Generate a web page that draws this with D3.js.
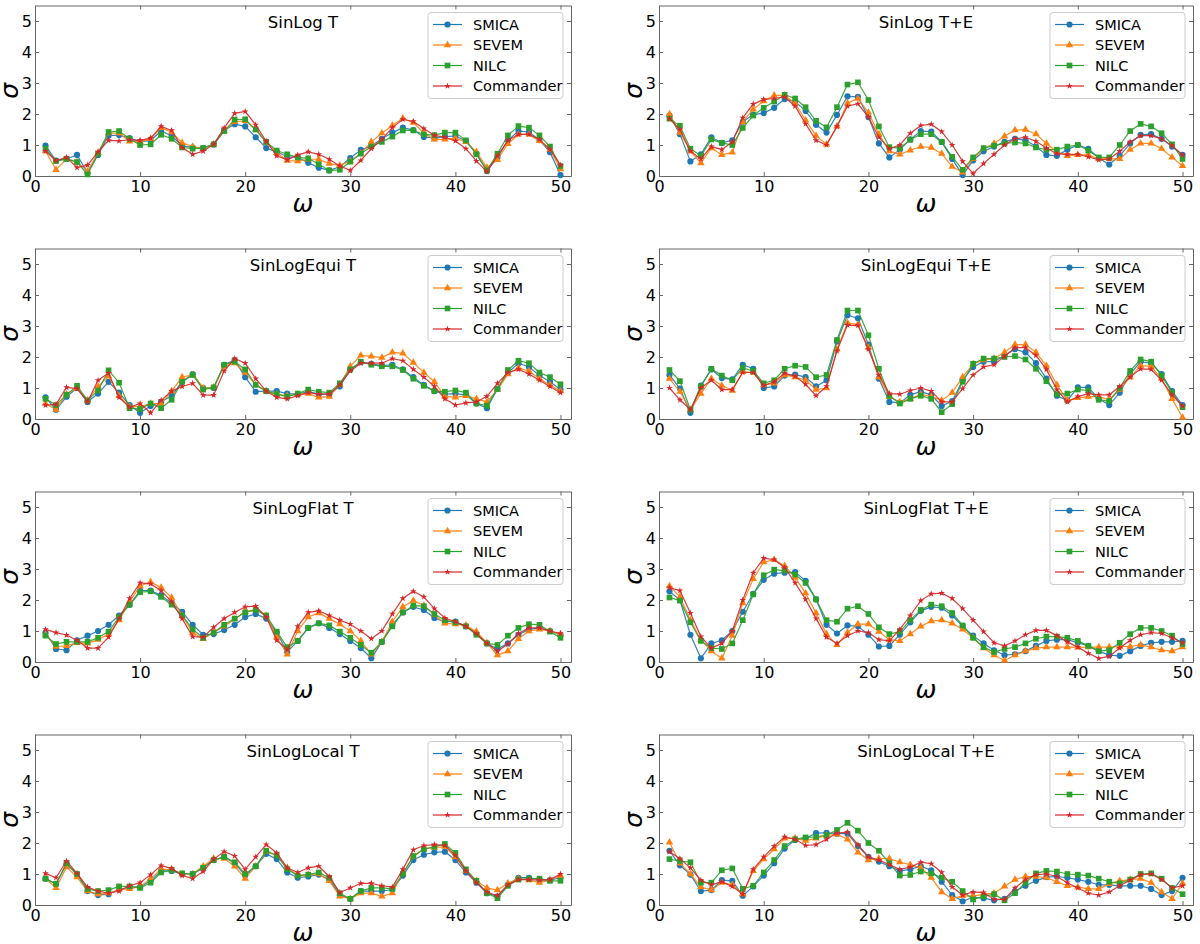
<!DOCTYPE html>
<html>
<head>
<meta charset="utf-8">
<script src="https://cdn.jsdelivr.net/npm/d3@7"></script>
<style>
body { margin: 0; background: #fff; }
text { font-family: "DejaVu Sans", sans-serif; }
</style>
</head>
<body>
<svg id="chart"></svg>
<script>
let width = 1200;
let height = 944;

let omega = d3.range(1, 51);
let methods = ["SMICA", "SEVEM", "NILC", "Commander"];
let colors = ["#1f77b4", "#ff7f0e", "#2ca02c", "#d62728"];
let xTicks = [0, 10, 20, 30, 40, 50];
let yTicks = [0, 1, 2, 3, 4, 5];
let titles = ["SinLog T", "SinLog T+E", "SinLogEqui T", "SinLogEqui T+E",
              "SinLogFlat T", "SinLogFlat T+E", "SinLogLocal T", "SinLogLocal T+E"];

// SinLog T
let sinLogT_SMICA = [0.98,0.5,0.55,0.68,0.1,0.68,1.3,1.32,1.22,1.1,1.15,1.45,1.3,0.97,0.92,0.9,1.02,1.48,1.67,1.6,1.25,0.9,0.78,0.62,0.6,0.43,0.27,0.18,0.3,0.58,0.84,0.97,1.2,1.4,1.56,1.48,1.26,1.22,1.27,1.29,1.13,0.72,0.16,0.6,1.15,1.45,1.42,1.16,0.77,0.03];
let sinLogT_SEVEM = [0.8,0.2,0.55,0.45,0.15,0.75,1.38,1.38,1.12,1.1,1.2,1.55,1.42,1.07,0.95,0.88,1.02,1.45,1.75,1.78,1.5,1.08,0.75,0.5,0.48,0.54,0.54,0.4,0.34,0.48,0.73,1.1,1.38,1.63,1.86,1.72,1.38,1.18,1.18,1.22,1.1,0.78,0.27,0.52,1.04,1.34,1.34,1.13,0.86,0.22];
let sinLogT_NILC = [0.88,0.48,0.55,0.45,0.05,0.72,1.42,1.45,1.2,1.0,1.02,1.33,1.2,0.92,0.88,0.9,1.02,1.45,1.82,1.83,1.5,1.1,0.82,0.7,0.6,0.57,0.38,0.18,0.2,0.46,0.72,0.95,1.1,1.27,1.47,1.47,1.34,1.32,1.4,1.4,1.15,0.7,0.18,0.72,1.31,1.61,1.56,1.31,0.95,0.32];
let sinLogT_Commander = [0.8,0.5,0.6,0.27,0.35,0.78,1.15,1.13,1.17,1.15,1.22,1.6,1.47,0.92,0.7,0.8,1.02,1.55,2.02,2.08,1.65,1.12,0.65,0.52,0.68,0.78,0.7,0.54,0.32,0.18,0.5,0.88,1.18,1.56,1.83,1.76,1.53,1.31,1.25,1.13,0.88,0.48,0.14,0.65,1.15,1.34,1.34,1.18,0.86,0.35];

// SinLog T+E
let sinLogTE_SMICA = [1.95,1.35,0.47,0.7,1.25,1.07,1.15,1.75,1.98,2.03,2.2,2.48,2.4,2.1,1.65,1.4,1.97,2.57,2.55,1.9,1.05,0.6,0.85,1.18,1.45,1.43,1.1,0.55,0.03,0.5,0.8,0.95,1.1,1.2,1.15,0.95,0.68,0.65,0.85,1.0,0.88,0.58,0.37,0.65,1.05,1.33,1.35,1.2,0.95,0.68];
let sinLogTE_SEVEM = [2.0,1.4,0.8,0.42,0.9,0.68,0.76,1.75,2.15,2.42,2.6,2.6,2.35,1.8,1.3,1.02,1.6,2.35,2.5,2.05,1.35,0.8,0.7,0.83,0.95,0.92,0.72,0.3,0.12,0.55,0.88,1.05,1.28,1.48,1.5,1.35,1.05,0.78,0.65,0.68,0.68,0.55,0.55,0.55,0.85,1.05,1.05,0.88,0.6,0.33];
let sinLogTE_NILC = [1.85,1.62,0.88,0.65,1.18,1.07,1.0,1.55,1.95,2.2,2.4,2.62,2.5,2.22,1.78,1.57,2.22,2.95,3.02,2.45,1.6,0.93,0.9,1.17,1.35,1.35,1.1,0.62,0.2,0.6,0.9,0.98,1.05,1.08,1.05,0.92,0.85,0.85,0.95,1.0,0.82,0.6,0.6,1.0,1.45,1.68,1.6,1.38,1.02,0.55];
let sinLogTE_Commander = [1.85,1.5,0.8,0.55,0.95,0.85,1.1,1.88,2.32,2.47,2.5,2.55,2.25,1.68,1.15,1.0,1.6,2.25,2.33,1.9,1.25,0.88,1.0,1.38,1.63,1.67,1.43,1.0,0.47,0.08,0.4,0.7,1.0,1.2,1.25,1.12,0.9,0.72,0.7,0.7,0.62,0.52,0.55,0.8,1.1,1.3,1.3,1.2,0.98,0.68];

// SinLogEqui T
let equiT_SMICA = [0.7,0.3,0.72,1.0,0.55,0.82,1.2,0.85,0.45,0.2,0.42,0.55,0.75,1.2,1.45,1.0,1.0,1.75,1.9,1.35,0.88,0.9,0.9,0.82,0.8,0.88,0.8,0.8,1.05,1.6,1.83,1.78,1.72,1.75,1.6,1.35,1.1,0.9,0.8,0.82,0.78,0.5,0.35,0.97,1.5,1.8,1.68,1.4,1.2,0.95];
let equiT_SEVEM = [0.5,0.3,0.8,1.0,0.6,1.05,1.38,0.75,0.4,0.4,0.5,0.5,0.9,1.35,1.42,1.0,1.02,1.7,1.8,1.5,1.1,0.9,0.8,0.75,0.8,0.82,0.7,0.72,1.12,1.7,2.05,2.02,1.98,2.15,2.12,1.82,1.5,1.2,0.73,0.7,0.75,0.65,0.55,0.95,1.45,1.65,1.55,1.3,1.1,0.9];
let equiT_NILC = [0.65,0.45,0.78,1.07,0.6,0.92,1.57,1.17,0.35,0.32,0.5,0.35,0.62,1.2,1.42,0.95,1.02,1.75,1.85,1.6,1.1,0.9,0.8,0.72,0.82,0.95,0.88,0.85,1.15,1.6,1.85,1.75,1.7,1.7,1.58,1.3,1.07,0.9,0.88,0.92,0.85,0.5,0.43,0.97,1.58,1.88,1.8,1.5,1.35,1.12];
let equiT_Commander = [0.45,0.47,1.02,0.98,0.55,1.25,1.48,0.7,0.38,0.5,0.2,0.6,0.9,1.05,1.15,0.77,0.77,1.55,1.95,1.8,1.3,0.9,0.7,0.65,0.75,0.85,0.8,0.8,1.1,1.55,1.8,1.8,1.8,1.95,1.88,1.6,1.35,1.05,0.65,0.45,0.52,0.55,0.73,1.15,1.5,1.6,1.45,1.25,1.05,0.85];

// SinLogEqui T+E
let equiTE_SMICA = [1.42,0.98,0.2,1.08,1.6,1.32,1.28,1.75,1.62,1.0,1.05,1.4,1.43,1.35,1.05,1.25,2.5,3.35,3.25,2.4,1.3,0.55,0.52,0.78,0.88,0.78,0.42,0.58,1.25,1.68,1.85,1.85,2.05,2.25,2.15,1.8,1.3,0.75,0.6,1.02,1.02,0.65,0.45,0.85,1.45,1.85,1.8,1.45,0.9,0.45];
let equiTE_SEVEM = [1.3,0.88,0.3,0.82,1.3,1.08,0.92,1.52,1.5,1.1,1.15,1.42,1.35,1.25,0.95,1.0,2.25,3.1,3.05,2.3,1.35,0.72,0.55,0.65,0.8,0.72,0.6,0.85,1.35,1.78,1.9,1.95,2.15,2.4,2.4,2.15,1.72,1.1,0.6,0.68,0.72,0.72,0.62,0.95,1.35,1.72,1.7,1.3,0.65,0.05];
let equiTE_NILC = [1.58,1.22,0.3,1.05,1.62,1.4,1.25,1.65,1.55,1.15,1.25,1.62,1.72,1.68,1.35,1.42,2.55,3.5,3.5,2.7,1.62,0.75,0.5,0.65,0.75,0.65,0.22,0.48,1.2,1.78,1.95,1.95,2.0,2.03,1.92,1.62,1.22,0.8,0.82,0.95,0.92,0.62,0.58,1.0,1.55,1.92,1.85,1.4,0.85,0.38];
let equiTE_Commander = [1.0,0.62,0.3,1.0,1.25,0.95,0.95,1.5,1.5,1.08,1.2,1.48,1.38,1.12,0.75,1.05,2.2,3.03,3.02,2.25,1.42,0.82,0.8,0.92,1.0,0.9,0.55,0.55,0.98,1.42,1.68,1.75,2.02,2.3,2.3,2.05,1.6,0.95,0.55,0.72,0.82,0.78,0.78,1.05,1.35,1.62,1.6,1.25,0.78,0.42];

// SinLogFlat T
let flatT_SMICA = [0.95,0.42,0.38,0.7,0.85,1.0,1.2,1.5,1.85,2.3,2.3,2.15,1.9,1.62,1.2,0.88,0.9,1.03,1.2,1.45,1.55,1.4,0.95,0.32,0.68,1.1,1.25,1.1,0.9,0.68,0.45,0.12,0.65,1.2,1.6,1.78,1.68,1.42,1.3,1.3,1.15,0.9,0.6,0.42,0.6,0.88,1.05,1.1,1.0,0.88];
let flatT_SEVEM = [0.88,0.5,0.52,0.62,0.6,0.72,0.9,1.35,1.95,2.45,2.58,2.4,2.08,1.5,0.95,0.75,0.95,1.15,1.38,1.62,1.7,1.5,0.8,0.25,1.0,1.45,1.58,1.4,1.22,1.0,0.68,0.25,0.65,1.3,1.78,1.98,1.82,1.52,1.25,1.22,1.18,0.98,0.62,0.22,0.35,0.75,1.0,1.05,1.0,0.9];
let flatT_NILC = [0.85,0.58,0.65,0.65,0.65,0.78,0.98,1.45,1.85,2.25,2.28,2.1,1.85,1.5,1.05,0.78,0.95,1.2,1.4,1.6,1.68,1.5,0.98,0.48,0.68,1.1,1.25,1.18,0.98,0.78,0.55,0.3,0.65,1.15,1.6,1.82,1.8,1.55,1.35,1.28,1.15,0.88,0.6,0.55,0.85,1.1,1.22,1.2,0.98,0.78];
let flatT_Commander = [1.05,0.95,0.87,0.7,0.45,0.45,0.8,1.4,2.05,2.55,2.52,2.3,1.95,1.4,0.82,0.8,1.12,1.4,1.6,1.78,1.8,1.45,0.7,0.4,1.15,1.6,1.65,1.5,1.35,1.22,1.0,0.75,1.0,1.55,2.05,2.28,2.1,1.72,1.42,1.3,1.15,0.92,0.6,0.35,0.58,0.92,1.1,1.1,1.0,0.92];

// SinLogFlat T+E
let flatTE_SMICA = [2.28,2.0,0.88,0.12,0.6,0.7,1.0,1.62,2.2,2.65,2.85,2.88,2.9,2.62,2.02,1.2,0.92,1.18,1.15,0.88,0.5,0.52,0.88,1.28,1.65,1.78,1.75,1.5,1.15,0.85,0.6,0.38,0.22,0.25,0.35,0.52,0.68,0.72,0.72,0.62,0.52,0.35,0.22,0.2,0.35,0.52,0.62,0.65,0.65,0.68];
let flatTE_SEVEM = [2.45,2.1,1.35,0.72,0.35,0.12,0.85,1.9,2.68,3.22,3.3,3.1,2.72,2.22,1.58,0.9,0.55,0.95,1.22,1.22,0.98,0.72,0.68,0.9,1.15,1.32,1.35,1.25,1.05,0.78,0.45,0.22,0.05,0.22,0.35,0.45,0.48,0.48,0.48,0.47,0.48,0.48,0.48,0.5,0.5,0.55,0.48,0.38,0.35,0.48];
let flatTE_NILC = [2.08,1.98,1.28,0.68,0.45,0.42,0.6,1.35,2.18,2.8,2.98,2.95,2.82,2.55,2.02,1.35,1.3,1.72,1.8,1.55,1.12,0.9,0.98,1.35,1.68,1.85,1.8,1.58,1.18,0.78,0.48,0.32,0.42,0.48,0.6,0.75,0.82,0.82,0.78,0.68,0.52,0.35,0.38,0.62,0.9,1.1,1.1,1.0,0.85,0.58];
let flatTE_Commander = [2.4,2.3,1.58,0.82,0.45,0.6,1.0,2.0,2.88,3.35,3.3,3.05,2.55,2.02,1.4,0.8,0.6,0.85,1.0,0.95,0.72,0.68,1.05,1.5,1.98,2.2,2.22,2.05,1.72,1.35,0.98,0.62,0.52,0.68,0.88,1.02,1.02,0.85,0.65,0.48,0.28,0.12,0.18,0.45,0.7,0.88,0.95,0.92,0.78,0.62];

// SinLogLocal T
let localT_SMICA = [0.85,0.68,1.32,0.98,0.45,0.32,0.35,0.5,0.58,0.58,0.78,1.1,1.1,1.0,1.0,1.2,1.45,1.55,1.35,0.95,1.25,1.65,1.48,1.05,0.88,0.92,0.98,0.82,0.32,0.2,0.45,0.45,0.45,0.5,0.95,1.45,1.62,1.7,1.72,1.45,1.05,0.72,0.38,0.28,0.65,0.88,0.88,0.82,0.8,0.88];
let localT_SEVEM = [0.85,0.55,1.22,0.9,0.45,0.35,0.38,0.5,0.52,0.6,0.85,1.15,1.15,1.0,1.0,1.25,1.5,1.5,1.25,0.85,1.25,1.72,1.6,1.2,0.95,0.98,1.0,0.78,0.28,0.2,0.38,0.38,0.28,0.38,1.05,1.55,1.82,1.85,1.88,1.55,1.1,0.78,0.55,0.48,0.7,0.85,0.8,0.72,0.8,0.95];
let localT_NILC = [0.85,0.68,1.35,1.0,0.52,0.45,0.48,0.6,0.6,0.55,0.72,1.05,1.12,1.02,1.0,1.2,1.45,1.55,1.38,1.0,1.25,1.75,1.6,1.15,0.95,0.98,1.05,0.88,0.38,0.2,0.45,0.55,0.55,0.52,1.0,1.58,1.8,1.88,1.97,1.68,1.15,0.78,0.38,0.22,0.62,0.82,0.85,0.85,0.78,0.78];
let localT_Commander = [1.02,0.88,1.42,1.02,0.58,0.45,0.38,0.45,0.62,0.72,0.98,1.27,1.18,0.95,0.85,1.08,1.48,1.72,1.58,1.15,1.55,1.95,1.68,1.2,1.05,1.2,1.25,0.92,0.4,0.55,0.7,0.7,0.62,0.58,1.15,1.78,1.92,1.95,1.92,1.6,1.1,0.72,0.42,0.3,0.65,0.82,0.82,0.8,0.82,1.0];

// SinLogLocal T+E
let localTE_SMICA = [1.75,1.28,0.98,0.45,0.48,0.8,0.78,0.3,0.6,0.95,1.35,1.82,2.1,2.15,2.32,2.33,2.3,2.3,1.9,1.55,1.4,1.25,1.1,1.15,1.25,1.12,0.75,0.32,0.12,0.25,0.22,0.15,0.2,0.45,0.62,0.78,0.9,0.92,0.88,0.82,0.75,0.65,0.65,0.62,0.62,0.62,0.52,0.32,0.45,0.88];
let localTE_SEVEM = [2.02,1.35,1.0,0.58,0.48,0.72,0.65,0.35,1.1,1.48,1.8,2.15,2.15,2.08,2.15,2.25,2.28,2.12,1.7,1.45,1.5,1.5,1.38,1.3,1.2,0.88,0.42,0.2,0.3,0.28,0.35,0.38,0.6,0.82,0.92,0.92,0.88,0.75,0.62,0.58,0.52,0.52,0.68,0.78,0.82,0.85,0.72,0.42,0.2,0.7];
let localTE_NILC = [1.48,1.42,1.38,0.72,0.72,1.12,1.18,0.52,0.62,1.05,1.45,1.9,2.12,2.18,2.2,2.25,2.42,2.65,2.4,2.0,1.75,1.35,0.95,0.97,1.08,1.02,0.88,0.75,0.45,0.18,0.28,0.35,0.15,0.38,0.72,1.02,1.1,1.08,1.0,0.98,0.95,0.85,0.75,0.7,0.82,1.0,1.02,0.85,0.55,0.35];
let localTE_Commander = [1.72,1.5,1.2,0.8,0.65,0.75,0.6,0.35,1.15,1.55,1.9,2.2,2.12,1.92,1.95,2.12,2.32,2.35,1.95,1.55,1.45,1.3,1.15,1.22,1.38,1.33,1.05,0.58,0.32,0.42,0.4,0.18,0.18,0.55,0.82,0.98,1.0,0.92,0.72,0.55,0.38,0.32,0.42,0.62,0.8,0.98,1.0,0.82,0.55,0.62];

let panelSeries = [
  [sinLogT_SMICA, sinLogT_SEVEM, sinLogT_NILC, sinLogT_Commander],
  [sinLogTE_SMICA, sinLogTE_SEVEM, sinLogTE_NILC, sinLogTE_Commander],
  [equiT_SMICA, equiT_SEVEM, equiT_NILC, equiT_Commander],
  [equiTE_SMICA, equiTE_SEVEM, equiTE_NILC, equiTE_Commander],
  [flatT_SMICA, flatT_SEVEM, flatT_NILC, flatT_Commander],
  [flatTE_SMICA, flatTE_SEVEM, flatTE_NILC, flatTE_Commander],
  [localT_SMICA, localT_SEVEM, localT_NILC, localT_Commander],
  [localTE_SMICA, localTE_SEVEM, localTE_NILC, localTE_Commander]
];

let svg = d3.select("#chart").attr("width", width).attr("height", height);

let colLeft = [35, 659];
let colRight = [571, 1193];
let rowBottom = [176, 419, 662, 905];
let plotH = 170.5;

let markers = [
  d3.symbol().type(d3.symbolCircle).size(30),
  d3.symbol().type(d3.symbolTriangle).size(24),
  d3.symbol().type(d3.symbolSquare).size(32),
  d3.symbol().type(d3.symbolStar).size(14)
];

let drawPanel = (i) => {
  let col = i % 2;
  let row = Math.floor(i / 2);
  let x0 = colLeft[col], x1 = colRight[col];
  let y0 = rowBottom[row], y1 = y0 - plotH;

  let xScale = d3.scaleLinear().domain([0, 51]).range([x0, x1]);
  let yScale = d3.scaleLinear().domain([0, 5.5]).range([y0, y1]);

  let g = svg.append("g");

  // axes, ticks pointing inward on all four sides
  let xAxis = d3.axisBottom(xScale).tickValues(xTicks).tickFormat(d3.format("d"))
    .tickSizeInner(-4).tickSizeOuter(0).tickPadding(5);
  let yAxis = d3.axisLeft(yScale).tickValues(yTicks).tickFormat(d3.format("d"))
    .tickSizeInner(-4).tickSizeOuter(0).tickPadding(3);
  let gx = g.append("g").attr("transform", "translate(0," + y0 + ")").call(xAxis);
  let gy = g.append("g").attr("transform", "translate(" + x0 + ",0)").call(yAxis);
  g.append("g").attr("transform", "translate(0," + y1 + ")")
    .call(d3.axisTop(xScale).tickValues(xTicks).tickSizeInner(-4).tickSizeOuter(0).tickFormat(""));
  g.append("g").attr("transform", "translate(" + x1 + ",0)")
    .call(d3.axisRight(yScale).tickValues(yTicks).tickSizeInner(-4).tickSizeOuter(0).tickFormat(""));
  g.selectAll(".domain").attr("stroke", "#666");
  g.selectAll(".tick line").attr("stroke", "#666");
  g.selectAll(".tick text").attr("font-size", 16).attr("fill", "#000").attr("font-family", "DejaVu Sans");

  // series
  let line = d3.line().x((d, k) => xScale(omega[k])).y(d => yScale(d));
  panelSeries[i].forEach((vals, s) => {
    g.append("path").datum(vals)
      .attr("d", line).attr("fill", "none")
      .attr("stroke", colors[s]).attr("stroke-width", 1.2).attr("stroke-opacity", 0.9);
    g.selectAll(null).data(vals).enter().append("path")
      .attr("d", markers[s])
      .attr("transform", (d, k) => "translate(" + xScale(omega[k]) + "," + yScale(d) + ")")
      .attr("fill", colors[s]);
  });

  // title
  g.append("text").attr("x", (x0 + x1) / 2).attr("y", y1 + 22)
    .attr("text-anchor", "middle").attr("font-size", 16.5).text(titles[i]);

  // axis labels
  g.append("text")
    .attr("transform", "translate(" + (x0 - 17) + "," + ((y0 + y1) / 2) + ") rotate(-90)")
    .attr("text-anchor", "middle").attr("font-size", 25).attr("font-style", "italic").text("σ");
  g.append("text").attr("x", (x0 + x1) / 2).attr("y", y0 + 36)
    .attr("text-anchor", "middle").attr("font-size", 25).attr("font-style", "italic").text("ω");

  // legend
  let lw = 135, lh = 86;
  let lx = x1 - 8 - lw, ly = y1 + 7;
  let lg = g.append("g").attr("transform", "translate(" + lx + "," + ly + ")");
  lg.append("rect").attr("width", lw).attr("height", lh).attr("rx", 3)
    .attr("fill", "#fff").attr("fill-opacity", 0.85).attr("stroke", "#ccc");
  methods.forEach((m, s) => {
    let yy = 12 + s * 20.5;
    lg.append("line").attr("x1", 5).attr("x2", 34).attr("y1", yy).attr("y2", yy)
      .attr("stroke", colors[s]).attr("stroke-width", 1.2);
    lg.append("path").attr("d", markers[s]).attr("transform", "translate(19.5," + yy + ")").attr("fill", colors[s]);
    lg.append("text").attr("x", 45).attr("y", yy).attr("dy", "0.35em").attr("font-size", 14.5).text(m);
  });
};

d3.range(8).forEach(drawPanel);
</script>
</body>
</html>
